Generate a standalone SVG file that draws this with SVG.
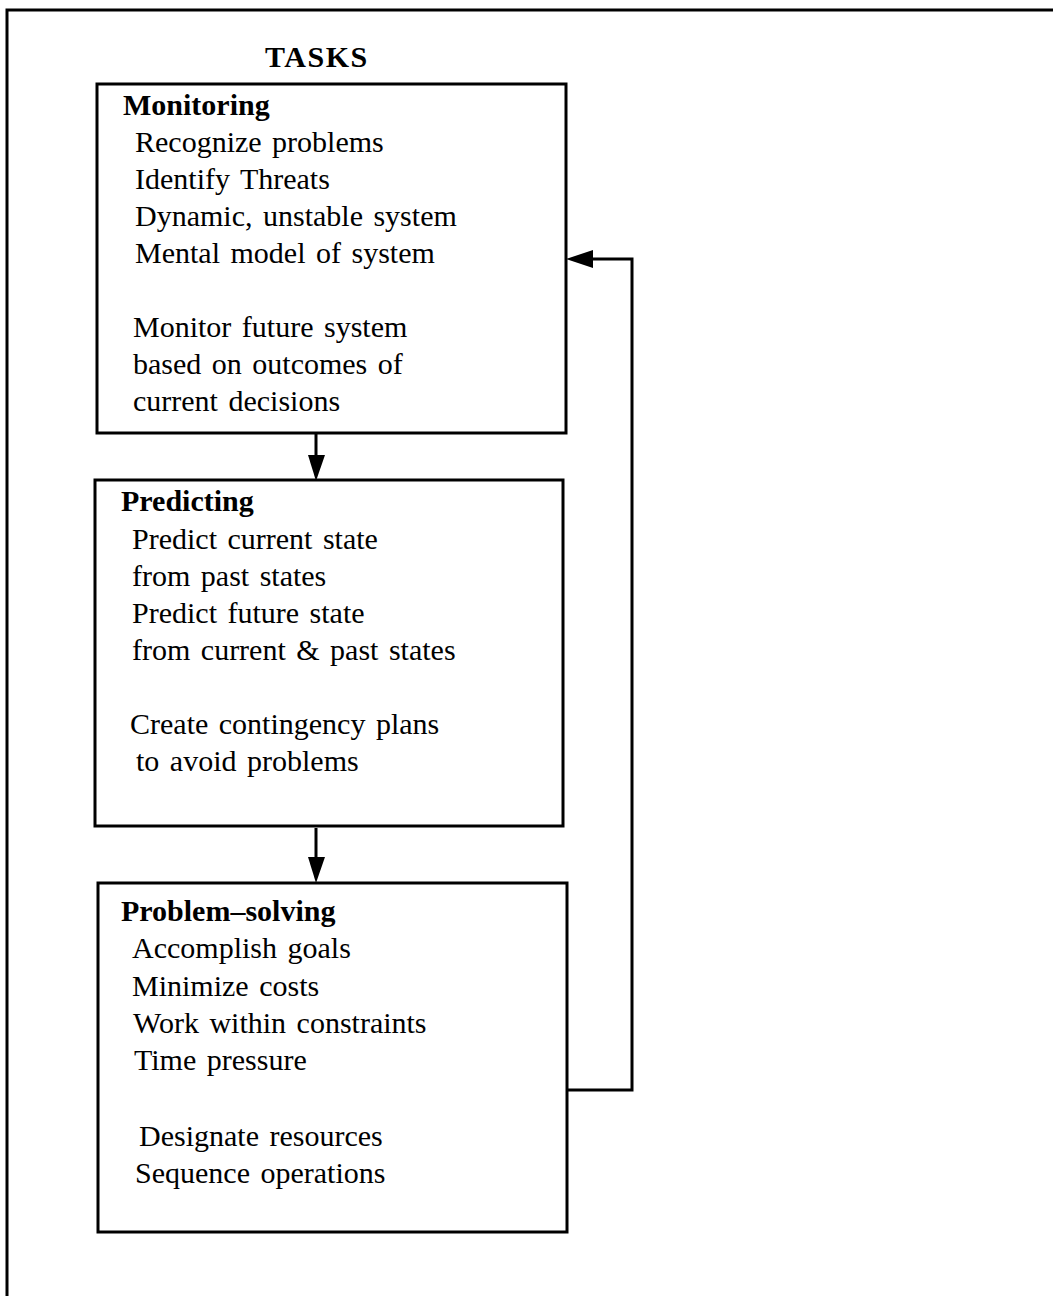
<svg xmlns="http://www.w3.org/2000/svg" width="1053" height="1296" viewBox="0 0 1053 1296">
<style>
text{font-family:"Liberation Serif","Times New Roman",serif;font-size:30px;fill:#000;word-spacing:3px}
.b{font-weight:bold;word-spacing:0}
.t{letter-spacing:1.5px}
.box{fill:none;stroke:#000;stroke-width:3}
.ln{fill:none;stroke:#000;stroke-width:3}
</style>
<rect x="0" y="0" width="1053" height="1296" fill="#fff"/>
<rect x="7" y="10" width="1060" height="1300" class="box"/>
<text x="265" y="67" class="b t">TASKS</text>
<g id="monitoring">
<rect x="97" y="84" width="469" height="349" class="box"/>
<text x="123" y="115" class="b">Monitoring</text>
<text x="135" y="152">Recognize problems</text>
<text x="135" y="189">Identify Threats</text>
<text x="135" y="226">Dynamic, unstable system</text>
<text x="135" y="263">Mental model of system</text>
<text x="133" y="337">Monitor future system</text>
<text x="133" y="374">based on outcomes of</text>
<text x="133" y="411">current decisions</text>
</g>
<g id="predicting">
<rect x="95" y="480" width="468" height="346" class="box"/>
<text x="121" y="511" class="b">Predicting</text>
<text x="132" y="549">Predict current state</text>
<text x="132" y="586">from past states</text>
<text x="132" y="623">Predict future state</text>
<text x="132" y="660">from current &amp; past states</text>
<text x="130" y="734">Create contingency plans</text>
<text x="136" y="771">to avoid problems</text>
</g>
<g id="problem-solving">
<rect x="98" y="883" width="469" height="349" class="box"/>
<text x="121" y="921" class="b">Problem–solving</text>
<text x="132" y="958">Accomplish goals</text>
<text x="132" y="996">Minimize costs</text>
<text x="133" y="1033">Work within constraints</text>
<text x="134" y="1070">Time pressure</text>
<text x="139" y="1146">Designate  resources</text>
<text x="135" y="1183">Sequence  operations</text>
</g>
<g id="connectors">
<line x1="316" y1="433" x2="316" y2="456" class="ln"/>
<path d="M308,455 L325,455 L316,481 Z" fill="#000"/>
<line x1="316" y1="828" x2="316" y2="858" class="ln"/>
<path d="M308,857 L325,857 L316,883 Z" fill="#000"/>
<path d="M567,1090 L632,1090 L632,259 L590,259" class="ln"/>
<path d="M566,259 L593,250 L593,268 Z" fill="#000"/>
</g>
</svg>
